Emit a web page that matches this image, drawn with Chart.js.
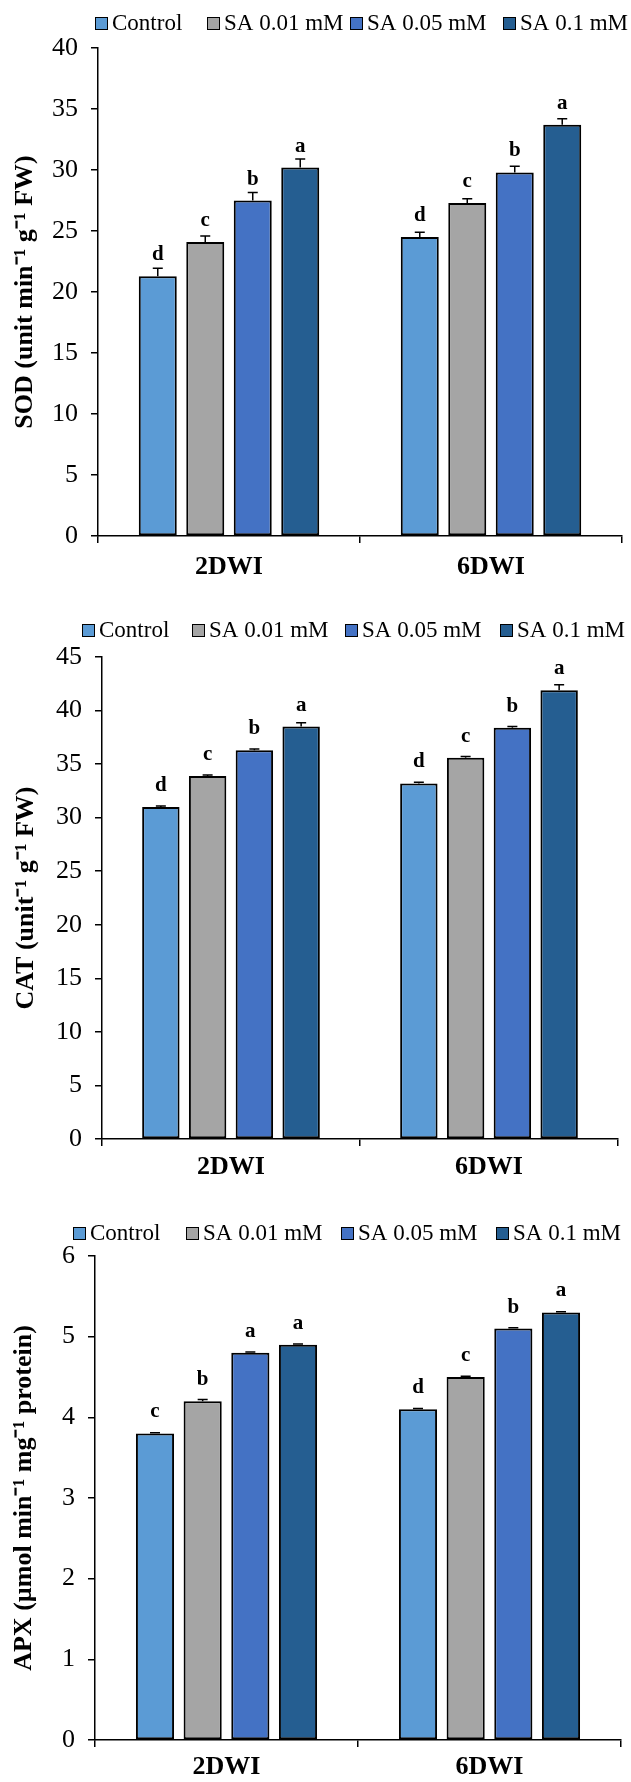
<!DOCTYPE html>
<html>
<head>
<meta charset="utf-8">
<script src="https://cdn.jsdelivr.net/npm/chart.js@4.4.1/dist/chart.umd.min.js"></script>
<style>
  html, body { margin: 0; padding: 0; background: #fff; }
  #wrap { position: relative; width: 631px; height: 1782px; }
  canvas { position: absolute; left: 0; }
</style>
</head>
<body>
<div id="wrap">
  <canvas id="sod" width="631" height="600" style="top:0px"></canvas>
  <canvas id="cat" width="631" height="590" style="top:600px"></canvas>
  <canvas id="apx" width="631" height="592" style="top:1190px"></canvas>
</div>
<script>
// categories + legend
var days = ['2DWI', '6DWI'];
var treatments = ['Control', 'SA 0.01 mM', 'SA 0.05 mM', 'SA 0.1 mM'];
var colors = ['#5B9BD5', '#A5A5A5', '#4472C4', '#255E91'];

// one row per treatment: [2DWI, 6DWI]
var sodMean = [[21.3, 24.5], [24.1, 27.3], [27.5, 29.8], [30.2, 33.7]];
var sodErr  = [[0.65, 0.4], [0.5, 0.35], [0.65, 0.5], [0.7, 0.5]];
var sodSig  = [['d', 'd'], ['c', 'c'], ['b', 'b'], ['a', 'a']];
var sodTicks = [0, 5, 10, 15, 20, 25, 30, 35, 40];

var catMean = [[31.0, 33.2], [33.9, 35.6], [36.3, 38.4], [38.5, 41.9]];
var catErr  = [[0.1, 0.1], [0.08, 0.1], [0.12, 0.1], [0.35, 0.5]];
var catSig  = [['d', 'd'], ['c', 'c'], ['b', 'b'], ['a', 'a']];
var catTicks = [0, 5, 10, 15, 20, 25, 30, 35, 40, 45];

var apxMean = [[3.8, 4.1], [4.2, 4.5], [4.8, 5.1], [4.9, 5.3]];
var apxErr  = [[0.01, 0.01], [0.02, 0.01], [0.01, 0.01], [0.01, 0.01]];
var apxSig  = [['c', 'd'], ['b', 'c'], ['a', 'b'], ['a', 'a']];
var apxTicks = [0, 1, 2, 3, 4, 5, 6];

var serif = '"Liberation Serif", "Times New Roman", serif';

// error bar (plus only) and letter above each bar
var errorBars = {
    id: 'errorBars',
    afterDatasetsDraw: function (chart) {
        var ctx = chart.ctx;
        var y = chart.scales.y;
        ctx.save();
        chart.data.datasets.forEach(function (ds, i) {
            chart.getDatasetMeta(i).data.forEach(function (bar, j) {
                var top = y.getPixelForValue(ds.data[j] + ds.err[j]);
                ctx.strokeStyle = '#000';
                ctx.lineWidth = 1.5;
                ctx.beginPath();
                ctx.moveTo(bar.x, bar.y);
                ctx.lineTo(bar.x, top);
                ctx.moveTo(bar.x - 5, top);
                ctx.lineTo(bar.x + 5, top);
                ctx.stroke();
                ctx.fillStyle = '#000';
                ctx.font = 'bold 21px ' + serif;
                ctx.textAlign = 'center';
                ctx.textBaseline = 'alphabetic';
                ctx.fillText(ds.sig[j], bar.x, bar.y - 16);
            });
        });
        ctx.restore();
    }
};

// legend row like the excel one (small square + name)
var boxLegend = {
    id: 'boxLegend',
    afterDraw: function (chart, args, opts) {
        var ctx = chart.ctx;
        ctx.save();
        ctx.font = '23px ' + serif;
        ctx.textBaseline = 'middle';
        ctx.textAlign = 'left';
        chart.data.datasets.forEach(function (ds, i) {
            var x = opts.x[i];
            ctx.fillStyle = ds.backgroundColor;
            ctx.fillRect(x, opts.y - 6, 13, 13);
            ctx.strokeStyle = '#000';
            ctx.lineWidth = 1;
            ctx.strokeRect(x + 0.5, opts.y - 5.5, 12, 12);
            ctx.fillStyle = '#000';
            ctx.fillText(ds.label, x + 17, opts.y + 1);
        });
        ctx.restore();
    }
};

function makeChart(id, mean, err, sig, ticks, title, L) {
    var datasets = treatments.map(function (name, i) {
        return {
            label: name,
            data: mean[i],
            err: err[i],
            sig: sig[i],
            backgroundColor: colors[i],
            borderColor: '#000',
            borderWidth: 2,
            borderSkipped: false,
            categoryPercentage: 0.725,
            barPercentage: 0.8
        };
    });
    return new Chart(document.getElementById(id), {
        type: 'bar',
        data: { labels: days, datasets: datasets },
        plugins: [errorBars, boxLegend],
        options: {
            responsive: false,
            animation: false,
            devicePixelRatio: 1,
            layout: { padding: { top: L.top, right: L.right, left: 0, bottom: 0 } },
            plugins: {
                legend: { display: false },
                tooltip: { enabled: false },
                boxLegend: { x: L.legendX, y: L.legendY }
            },
            scales: {
                x: {
                    grid: { offset: true, drawOnChartArea: false, tickLength: 7, color: '#000', lineWidth: 1.5 },
                    border: { color: '#000', width: 1.5 },
                    ticks: { color: '#000', padding: L.labelPad, font: { family: serif, size: 26, weight: 'bold' } },
                    afterFit: function (s) { s.height = L.h - L.bottom; }
                },
                y: {
                    min: ticks[0],
                    max: ticks[ticks.length - 1],
                    ticks: { stepSize: ticks[1] - ticks[0], color: '#000', padding: 13, font: { family: serif, size: 26 } },
                    grid: { drawOnChartArea: false, tickLength: 7, color: '#000', lineWidth: 1.5 },
                    border: { color: '#000', width: 1.5 },
                    title: {
                        display: true,
                        text: title,
                        color: '#000',
                        font: { family: serif, size: 26, weight: 'bold' },
                        padding: { top: L.titlePad, bottom: 0 }
                    },
                    afterFit: function (s) { s.width = L.left; }
                }
            }
        }
    });
}

makeChart('sod', sodMean, sodErr, sodSig, sodTicks, 'SOD (unit min\u207B\u00B9 g\u207B\u00B9 FW)',
    { h: 600, top: 48, bottom: 536, left: 98, right: 9, legendX: [95, 207, 350, 503], legendY: 23, labelPad: 9, titlePad: 10 });
makeChart('cat', catMean, catErr, catSig, catTicks, 'CAT (unit\u207B\u00B9 g\u207B\u00B9 FW)',
    { h: 590, top: 57, bottom: 539, left: 102, right: 13, legendX: [82, 192, 345, 500], legendY: 30, labelPad: 6, titlePad: 11 });
makeChart('apx', apxMean, apxErr, apxSig, apxTicks, 'APX (\u00B5mol min\u207B\u00B9 mg\u207B\u00B9 protein)',
    { h: 592, top: 66, bottom: 550, left: 95, right: 10, legendX: [73, 186, 341, 496], legendY: 43, labelPad: 5, titlePad: 9 });
</script>
</body>
</html>
